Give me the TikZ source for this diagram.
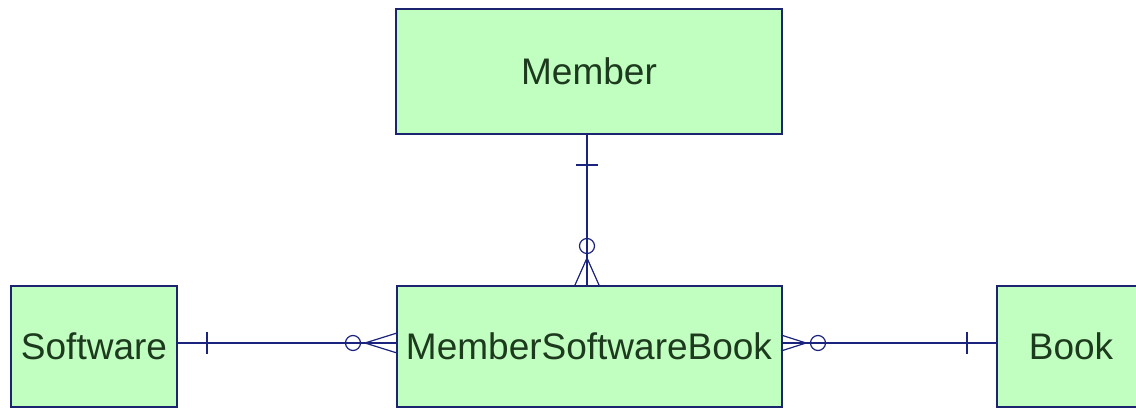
\documentclass[tikz,border=0pt]{standalone}
\usepackage{fontspec}
\setmainfont{Liberation Sans}
\definecolor{entfill}{HTML}{C0FFC0}
\definecolor{entdraw}{HTML}{1C2470}
\definecolor{linecol}{HTML}{1A237E}
\definecolor{txtcol}{HTML}{1E3A1E}
\begin{document}
\begin{tikzpicture}[x=1pt,y=-1pt,
  entity/.style={draw=entdraw,fill=entfill,line width=2pt,inner sep=0pt,
    font=\fontsize{37}{40}\selectfont,text=txtcol},
  rel/.style={draw=linecol,line width=1.6pt},
  relthin/.style={draw=linecol,line width=1.2pt}]
\useasboundingbox (0,0) rectangle (1136,409);
\begin{scope}
\clip (0,0) rectangle (1136,409);
\node[entity,minimum width=386pt,minimum height=125pt] (member) at (589,71.5) {Member};
\node[entity,minimum width=385pt,minimum height=121pt] (msb) at (589,346) {MemberSoftwareBook};
\node[entity,minimum width=166pt,minimum height=121pt] (software) at (94,346) {Software};
\node[entity,minimum width=148pt,minimum height=121pt] (book) at (1071,346) {Book};
\end{scope}
% Member -- MSB
\coordinate (vx) at (587,200);
\coordinate (hy) at (500,343);
\draw[rel] (member.south -| vx) -- (msb.north -| vx);
\draw[rel] (576,165) -- (598,165);
\draw[relthin] (587,246) circle (7.5);
\draw[relthin] (587,258) -- (575,285);
\draw[relthin] (587,258) -- (599,285);
% Software -- MSB
\draw[rel] (software.east |- hy) -- (msb.west |- hy);
\draw[rel] (207,332) -- (207,354);
\draw[relthin] (353,343) circle (7.5);
\draw[relthin] (365,343) -- (397,333);
\draw[relthin] (365,343) -- (397,353);
% MSB -- Book
\draw[rel] (msb.east |- hy) -- (book.west |- hy);
\draw[rel] (967,332) -- (967,354);
\draw[relthin] (818,343) circle (7.5);
\draw[relthin] (806,343) -- (781,335);
\draw[relthin] (806,343) -- (781,351);
\end{tikzpicture}
\end{document}
